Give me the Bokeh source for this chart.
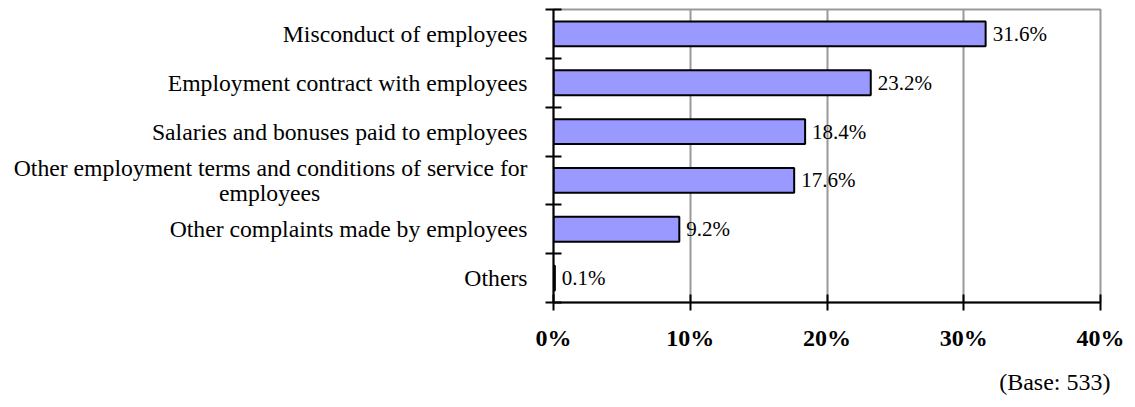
from bokeh.plotting import figure
from bokeh.models import (ColumnDataSource, LabelSet, Range1d, FixedTicker,
                          PrintfTickFormatter, LinearAxis, Title)
from bokeh.embed import file_html
from bokeh.resources import INLINE

NBSP = "\u00a0"
categories = [
    "Misconduct of employees",
    "Employment contract with employees",
    "Salaries and bonuses paid to employees",
    "Other employment terms and conditions of service for\nemployees" + NBSP * 35,
    "Other complaints made by employees",
    "Others",
]
values = [31.6, 23.2, 18.4, 17.6, 9.2, 0.1]
x_ticks = [0, 10, 20, 30, 40]
base_note = "(Base: 533)"

FONT = "Liberation Serif"

pos = [i + 0.5 for i in range(len(categories))]
src = ColumnDataSource(dict(
    cat=categories,
    value=values,
    pos=pos,
    vlabel=[f"{v:.1f}%" for v in values],
))

p = figure(width=1135, height=407, output_backend="svg", toolbar_location=None,
           x_range=Range1d(0, 40), y_range=Range1d(len(categories), 0),
           min_border_left=553, min_border_right=35, min_border_top=9,
           min_border_bottom=104)
p.background_fill_color = "white"
p.border_fill_color = "white"
p.outline_line_color = "#999999"
p.outline_line_width = 2

p.hbar(y="pos", left=0, right="value", height=0.51, source=src,
       fill_color="#9999FF", line_color="black", line_width=2)

# x axis
xa = p.xaxis[0]
xa.ticker = FixedTicker(ticks=x_ticks)
xa.formatter = PrintfTickFormatter(format="%d%%")
xa.axis_line_color = "black"
xa.axis_line_width = 2
xa.major_tick_line_color = "black"
xa.major_tick_line_width = 2
xa.major_tick_in = 8
xa.major_tick_out = 8
xa.minor_tick_line_color = None
xa.major_label_text_font = FONT
xa.major_label_text_font_size = "24px"
xa.major_label_text_font_style = "bold"
xa.major_label_text_color = "black"
xa.major_label_standoff = 14

# y axis with ticks at category boundaries
ya = p.yaxis[0]
ya.ticker = FixedTicker(ticks=list(range(len(categories) + 1)))
ya.axis_line_color = "black"
ya.axis_line_width = 2
ya.major_tick_line_color = "black"
ya.major_tick_line_width = 2
ya.major_tick_in = 8
ya.major_tick_out = 8
ya.minor_tick_line_color = None
ya.major_label_text_color = None
ya.major_label_text_font_size = "0px"
ya.major_label_standoff = 0

# y axis carrying the category names at the band centres
la = LinearAxis(ticker=FixedTicker(ticks=pos),
                major_label_overrides={pv: c for pv, c in zip(pos, categories)})
la.axis_line_color = None
la.major_tick_line_color = None
la.minor_tick_line_color = None
la.major_tick_in = 0
la.major_tick_out = 0
la.major_label_standoff = 18
la.major_label_text_font = FONT
la.major_label_text_font_size = "23.7px"
la.major_label_text_line_height = 0.95
la.major_label_text_color = "black"
p.add_layout(la, "left")

p.ygrid.grid_line_color = None
p.xgrid.ticker = FixedTicker(ticks=x_ticks)
p.xgrid.grid_line_color = "#999999"
p.xgrid.grid_line_width = 2

val_labels = LabelSet(x="value", y="pos", text="vlabel", source=src, x_offset=7,
                      text_align="left", text_baseline="middle",
                      text_font=FONT, text_font_size="21px", text_color="black")
p.add_layout(val_labels)

note = Title(text=base_note, align="right", offset=-10, standoff=26,
             text_font=FONT, text_font_size="24px", text_font_style="normal",
             text_color="black")
p.add_layout(note, "below")

open("out.html", "w").write(file_html(p, INLINE))
